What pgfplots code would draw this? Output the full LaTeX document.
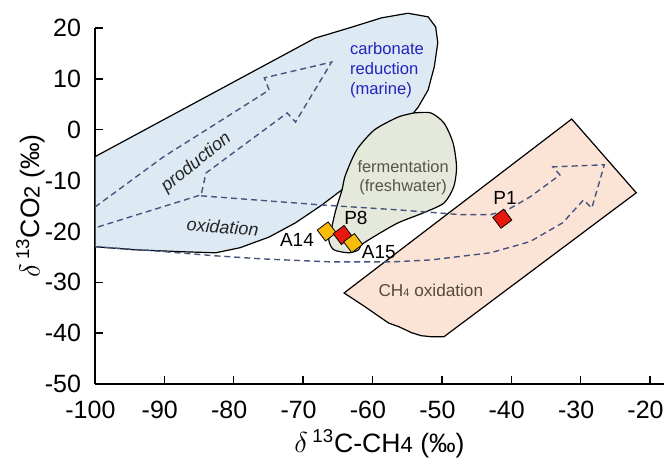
\documentclass[border=0pt]{standalone}
\usepackage{fontspec}
\setmainfont{Liberation Sans}
\usepackage{pgfplots}
\pgfplotsset{compat=1.18}
\definecolor{bluefill}{RGB}{221,234,243}
\definecolor{fermfill}{RGB}{229,233,219}
\definecolor{oxfill}{RGB}{251,228,214}
\definecolor{dashc}{RGB}{72,84,128}
\definecolor{carbtext}{RGB}{35,35,190}
\definecolor{fermtext}{RGB}{85,85,75}
\definecolor{oxtext}{RGB}{85,75,55}
\definecolor{mred}{RGB}{232,24,12}
\definecolor{myel}{RGB}{250,188,10}
\begin{document}
\begin{tikzpicture}
\begin{axis}[
  name=ax,
  scale only axis, width=284.5pt, height=178pt,
  xmin=-100, xmax=-18, ymin=-50, ymax=20,
  axis lines*=left,
  axis line style={line width=0.9pt},
  xtick={-100,-90,...,-20}, ytick={-50,-40,...,20},
  tick align=inside, major tick length=4pt,
  every tick/.style={black, line width=0.7pt},
  ticklabel style={font=\fontsize{12.5}{14}\selectfont},
  xticklabel style={yshift=-5pt, xshift=-2.3pt},
  yticklabel style={xshift=-3.5pt},
  /pgf/number format/assume math mode=true,
  xlabel={$\delta$\,\textsuperscript{13}C-CH{\fontsize{11}{12}\selectfont 4} (‰)},
  ylabel={$\delta$\,\textsuperscript{13}CO{\fontsize{11}{12}\selectfont 2} (‰)},
  label style={font=\fontsize{13.3}{15}\selectfont},
  xlabel shift=-1.5pt,
  ylabel shift=-7pt,
  clip=false,
]
% carbonate reduction (blue)
\addplot[draw=black, line width=0.6pt, fill=bluefill] coordinates {
(-100,-5.3) (-68.3,18.0) (-63.4,20.0) (-58.7,22.0) (-54.9,22.9) (-52.0,22.2)
(-50.9,20.2) (-50.6,17.1) (-51.1,12.4) (-52.0,7.8) (-53.4,4.5) (-54.1,3.3)
(-56,0) (-59,-4) (-62,-8) (-64.4,-11.8) (-67.3,-14.8) (-71.1,-18.3)
(-74.9,-21.1) (-79.1,-23.2) (-82.6,-24.2) (-87.3,-24.0) (-94.4,-23.6) (-100,-23.0)
} -- cycle;
% CH4 oxidation (peach)
\addplot[draw=black, line width=0.6pt, fill=oxfill] coordinates {
(-64.1,-32.1) (-31.3,2.1) (-22.0,-12.4) (-49.7,-40.7) (-51.6,-40.7) (-53.0,-40.5)
(-54.4,-39.9) (-56.1,-38.8) (-57.7,-38.0) (-61.1,-34.8)
} -- cycle;
% fermentation (green-grey)
\addplot[draw=black, line width=0.6pt, fill=fermfill, smooth, tension=0.45] coordinates {
(-54.0,3.3) (-51.6,3.3) (-49.7,1.3) (-48.4,-2.6) (-47.9,-7.3) (-48.3,-11.2)
(-49.7,-14.4) (-52.6,-16.3) (-56.3,-18.3) (-59.4,-20.7) (-61.6,-22.6) (-62.0,-23.6)
(-63.4,-24.2) (-65.6,-23.6) (-66.3,-21.7) (-65.9,-19.3) (-65.3,-15.8) (-64.4,-11.8)
(-64.0,-9.3) (-63.0,-5.9) (-62.0,-3.4) (-59.7,0.0) (-56.3,2.5) (-54.0,3.3)
};
% production arrow
\addplot[dashc, line width=0.7pt, dash pattern=on 3pt off 2pt] coordinates {
(-100,-15.2) (-90.1,-5.3) (-84.4,-0.4) (-74.9,7.8) (-75.6,10.2) (-65.9,13.3)
(-71.1,1.5) (-72.3,3.3) (-84.0,-8.5) (-84.7,-12.8) (-100,-19.3)
};
% oxidation arrow
\addplot[dashc, line width=0.7pt, dash pattern=on 3pt off 2pt] coordinates {
(-84.7,-13.0) (-67.3,-14.8) (-55.9,-15.8) (-47.3,-16.7) (-43.0,-16.7) (-40.6,-15.8)
(-37.3,-13.2) (-33.0,-8.9) (-34.0,-7.3) (-26.6,-6.9) (-28.4,-15.4) (-29.6,-13.8)
(-32.6,-18.3) (-37.3,-22.0) (-43.0,-24.2) (-51.6,-25.6) (-57.3,-26.0) (-65.9,-26.0)
(-75.9,-25.4) (-82.6,-24.8) (-91.6,-23.8) (-100,-23.0)
};
% markers
\addplot[only marks, mark=square*, mark size=3.4pt, mark options={rotate=37, draw=black, line width=0.4pt, fill=myel}] coordinates {(-66.6,-20.0)};
\addplot[only marks, mark=square*, mark size=3.4pt, mark options={rotate=37, draw=black, line width=0.4pt, fill=mred}] coordinates {(-64.3,-20.7)};
\addplot[only marks, mark=square*, mark size=3.4pt, mark options={rotate=37, draw=black, line width=0.4pt, fill=myel}] coordinates {(-62.8,-22.3)};
\addplot[only marks, mark=square*, mark size=3.4pt, mark options={rotate=37, draw=black, line width=0.4pt, fill=mred}] coordinates {(-41.3,-17.5)};
% labels
\node[anchor=west, align=left, text=carbtext, inner sep=0pt, font=\fontsize{8.3}{10}\selectfont] at (axis cs:-63.3,11.7) {carbonate\\reduction\\(marine)};
\node[align=center, text=fermtext, inner sep=0pt, font=\fontsize{8.2}{9.5}\selectfont] at (axis cs:-55.6,-9.5) {fermentation\\(freshwater)};
\node[text=oxtext, inner sep=0pt, font=\fontsize{8.6}{10}\selectfont] at (axis cs:-51.6,-31.5) {CH{\fontsize{5.5}{6}\selectfont 4} oxidation};
\node[rotate=39, inner sep=0pt, font=\itshape\fontsize{9}{10}\selectfont, text=black!85] at (axis cs:-85.4,-6.5) {production};
\node[rotate=-4, inner sep=0pt, font=\itshape\fontsize{9}{10}\selectfont, text=black!85] at (axis cs:-81.6,-19.1) {oxidation};
\node[inner sep=0pt, font=\fontsize{9.5}{10}\selectfont] at (axis cs:-40.9,-13.4) {P1};
\node[inner sep=0pt, font=\fontsize{9.5}{10}\selectfont] at (axis cs:-62.4,-17.3) {P8};
\node[inner sep=0pt, font=\fontsize{9.5}{10}\selectfont] at (axis cs:-70.9,-21.7) {A14};
\node[inner sep=0pt, font=\fontsize{9.5}{10}\selectfont] at (axis cs:-59.1,-24.0) {A15};
\end{axis}
\path (ax.south west) ++(-47.5pt,-37pt) coordinate (bbl);
\path (ax.north east) ++(1pt,14pt) coordinate (btr);
\pgfresetboundingbox
\path[use as bounding box] (bbl) rectangle (btr);
\end{tikzpicture}
\end{document}
